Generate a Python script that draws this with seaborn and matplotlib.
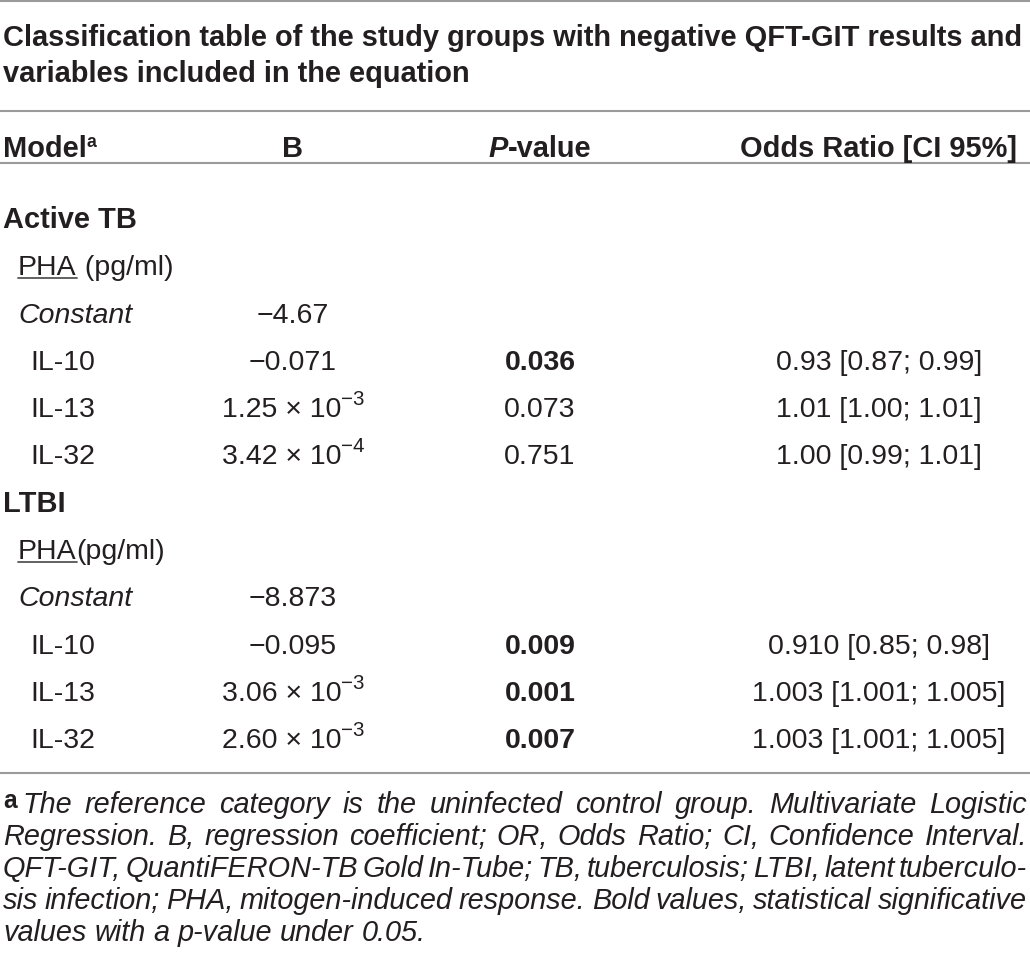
import matplotlib
matplotlib.use('Agg')
import matplotlib.pyplot as plt
import seaborn as sns

sns.set_theme(style='white')
plt.rcParams['font.family'] = ['Liberation Sans', 'DejaVu Sans']

# ---- table content ----
title_lines = ['Classification table of the study groups with negative QFT-GIT results and',
               'variables included in the equation']
groups = ['Active TB', 'LTBI']
units = ['PHA (pg/ml)', 'PHA(pg/ml)']
constants = ['\u22124.67', '\u22128.873']
markers = ['IL-10', 'IL-13', 'IL-32']
b_mant = [['\u22120.071', '1.25', '3.42'], ['\u22120.095', '3.06', '2.60']]
b_exp = [[None, '\u22123', '\u22124'], [None, '\u22123', '\u22123']]
p_values = [['0.036', '0.073', '0.751'], ['0.009', '0.001', '0.007']]
odds = [['0.93 [0.87; 0.99]', '1.01 [1.00; 1.01]', '1.00 [0.99; 1.01]'],
        ['0.910 [0.85; 0.98]', '1.003 [1.001; 1.005]', '1.003 [1.001; 1.005]']]
foot_lines = ['The reference category is the uninfected control group. Multivariate Logistic',
              'Regression. B, regression coefficient; OR, Odds Ratio; CI, Confidence Interval.',
              'QFT-GIT, QuantiFERON-TB Gold In-Tube; TB, tuberculosis; LTBI, latent tuberculo-',
              'sis infection; PHA, mitogen-induced response. Bold values, statistical significative',
              'values with a p-value under 0.05.']

INK = '#231f20'
RULE = '#9b9b9b'
FS = 20.5     # body
FSB = 20.9    # bold title / header
FFS = 20.8    # footnote
W, H = 1030, 968

fig = plt.figure(figsize=(W / 100, H / 100), dpi=100)
ax = fig.add_axes([0, 0, 1, 1])
ax.set_xlim(0, W)
ax.set_ylim(H, 0)
ax.axis('off')
rend = fig.canvas.get_renderer()


def runs(x, y, parts, ha='left'):
    # parts: (text, fontsize, weight, style, dy)
    arts = []
    total = 0
    for txt, fs, wt, st, dy in parts:
        t = ax.text(0, y + dy, txt, fontsize=fs, fontweight=wt, fontstyle=st,
                    color=INK, va='baseline', ha='left')
        w = t.get_window_extent(rend).width
        arts.append((t, w))
        total += w
    if ha == 'center':
        x = x - total / 2
    elif ha == 'right':
        x = x - total
    start = x
    for t, w in arts:
        t.set_x(x)
        x += w
    return start, arts


# rules
for yr in [1, 111, 163, 773]:
    ax.axhline(yr, color=RULE, lw=1.5)

# title
for i, line in enumerate(title_lines):
    ax.text(3, 46 + i * 36, line, fontsize=FSB, fontweight='bold', color=INK, va='baseline')

# header
col_b, col_p, col_or = 293, 540, 879
runs(3, 157, [('Model', FSB, 'bold', 'normal', 0), ('a', FS * 0.62, 'bold', 'normal', -10)])
runs(col_b, 157, [('B', FSB, 'bold', 'normal', 0)], ha='center')
runs(col_p, 157, [('P', FSB, 'bold', 'italic', 0), ('-value', FSB, 'bold', 'normal', 0)], ha='center')
runs(col_or, 157, [('Odds Ratio [CI 95%]', FSB, 'bold', 'normal', 0)], ha='center')

# body
y0, step = 228, 47.3
row = 0
for g in range(len(groups)):
    yb = y0 + row * step
    ax.text(3, yb, groups[g], fontsize=FSB, fontweight='bold', color=INK, va='baseline')
    row += 1
    yb = y0 + row * step
    u = units[g]
    start, arts = runs(18, yb, [('PHA', FS, 'normal', 'normal', 0), (u[3:], FS, 'normal', 'normal', 0)])
    ax.plot([start, start + arts[0][1]], [yb + 3, yb + 3], color='#555555', lw=1.3)
    row += 1
    yb = y0 + row * step
    ax.text(18, yb, 'Constant', fontsize=FS, fontstyle='italic', color=INK, va='baseline')
    runs(col_b, yb, [(constants[g], FS, 'normal', 'normal', 0)], ha='center')
    row += 1
    for k, m in enumerate(markers):
        yb = y0 + row * step
        ax.text(30, yb, m, fontsize=FS, color=INK, va='baseline')
        if b_exp[g][k] is None:
            runs(col_b, yb, [(b_mant[g][k], FS, 'normal', 'normal', 0)], ha='center')
        else:
            runs(col_b, yb, [(b_mant[g][k] + ' \u00d7 10', FS, 'normal', 'normal', 0),
                             (b_exp[g][k], FS * 0.72, 'normal', 'normal', -12)], ha='center')
        bold = 'bold' if float(p_values[g][k]) < 0.05 else 'normal'
        runs(col_p, yb, [(p_values[g][k], FS, bold, 'normal', 0)], ha='center')
        runs(col_or, yb, [(odds[g][k], FS, 'normal', 'normal', 0)], ha='center')
        row += 1

# footnote, justified
fx0, fx1 = 3, 1027
fy0, fstep = 813, 32
tsp = ax.text(0, 0, 'a a', fontsize=FFS, fontstyle='italic')
tnosp = ax.text(0, 0, 'aa', fontsize=FFS, fontstyle='italic')
space_w = tsp.get_window_extent(rend).width - tnosp.get_window_extent(rend).width
tsp.remove()
tnosp.remove()
for i, line in enumerate(foot_lines):
    yb = fy0 + i * fstep
    words = line.split(' ')
    items = []
    for j, wd in enumerate(words):
        parts = [(wd, FFS, 'normal', 'italic', 0)]
        if i == 0 and j == 0:
            parts = [('a', FFS * 0.85, 'bold', 'normal', -5), ('\u2009', FFS, 'normal', 'normal', 0)] + parts
        items.append(parts)
    widths = []
    for parts in items:
        s, arts = runs(0, yb, parts)
        widths.append((arts, sum(w for _, w in arts)))
    last = i == len(foot_lines) - 1
    space = space_w if last else (fx1 - fx0 - sum(w for _, w in widths)) / (len(widths) - 1)
    x = fx0
    for arts, wsum in widths:
        xx = x
        for t, w in arts:
            t.set_x(xx)
            xx += w
        x += wsum + space

fig.savefig('out.png', dpi=100)
